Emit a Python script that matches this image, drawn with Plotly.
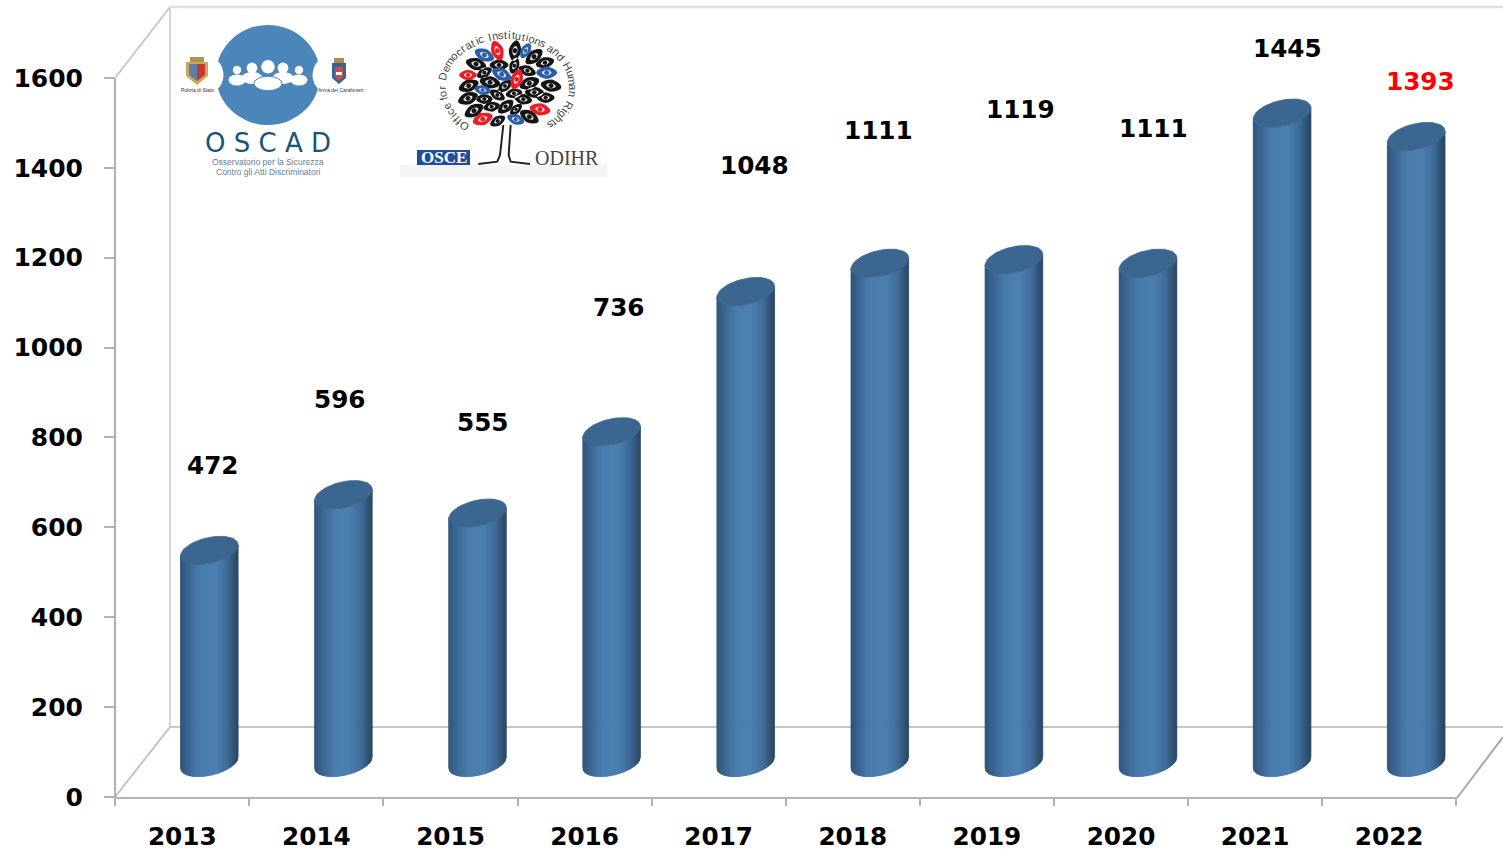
import math
import plotly.graph_objects as go

# ---------- data ----------
years = ["2013", "2014", "2015", "2016", "2017", "2018", "2019", "2020", "2021", "2022"]
values = [472, 596, 555, 736, 1048, 1111, 1119, 1111, 1445, 1393]
label_lift = [85, 95, 91, 124, 126, 133, 150, 135, 65, 55]
label_nudge = [4, -3, 5, 7, 9, -1, 7, 5, 5, 4]
label_colors = ["black"] * 9 + ["#ff0000"]
y_ticks = [0, 200, 400, 600, 800, 1000, 1200, 1400, 1600]

# ---------- geometry of the page ----------
W, H = 1503, 852
L, B = 115, 55
PH = H - B
PW = W - L
UNIT = 0.4494          # px per value unit
STEP = 134.1           # px per category
X0 = 182.3             # px of the first category centre
DEPTH_X = 27.0         # pseudo-3D shift of the bars, px
DEPTH_Y = 34.5
HALF_W = 28.8
TILT = 0.19
ARC = 13.0
SLICES = 58

def px(x): return (x - L) / PW
def py(y): return (H - B - y) / PH
def xu(p): return p / STEP      # px length -> x units
def yu(p): return p / UNIT      # px length -> y units

def gradient(f):
    stops = [(0, (46, 82, 122)), (0.12, (56, 98, 142)), (0.35, (73, 124, 175)),
             (0.62, (74, 125, 176)), (0.82, (62, 106, 152)), (0.95, (46, 78, 110)), (1, (42, 70, 98))]
    for (a, ca), (b, cb) in zip(stops, stops[1:]):
        if f <= b:
            t = (f - a) / (b - a)
            return "rgb(%d,%d,%d)" % tuple(round(ca[k] + (cb[k] - ca[k]) * t) for k in range(3))
    return "rgb(42,70,98)"

def lower(u):
    return TILT * u - ARC * math.sqrt(max(0, 1 - (u / HALF_W) ** 2))

fig = go.Figure()
cx = [i + xu(DEPTH_X) for i in range(len(values))]
base = yu(DEPTH_Y)

for s in range(SLICES):
    u0 = -HALF_W + 2 * HALF_W * s / SLICES
    u1 = -HALF_W + 2 * HALF_W * (s + 1) / SLICES
    xs, ys = [], []
    for c, v in zip(cx, values):
        xs += [c + xu(u0), c + xu(u1), c + xu(u1), c + xu(u0), c + xu(u0), None]
        ys += [base + yu(lower(u0)), base + yu(lower(u1)),
               base + v + yu(lower(u1)), base + v + yu(lower(u0)), base + yu(lower(u0)), None]
    col = gradient((s + 0.5) / SLICES)
    fig.add_trace(go.Scatter(x=xs, y=ys, mode="lines", fill="toself", fillcolor=col,
                             line=dict(color=col, width=0.8), hoverinfo="skip", showlegend=False))

tx, ty = [], []
for c, v in zip(cx, values):
    for k in range(61):
        a = 2 * math.pi * k / 60
        u = HALF_W * math.cos(a)
        tx.append(c + xu(u))
        ty.append(base + v + yu(TILT * u + ARC * math.sin(a)))
    tx.append(None)
    ty.append(None)
fig.add_trace(go.Scatter(x=tx, y=ty, mode="lines", fill="toself", fillcolor="#3b668f",
                         line=dict(color="#3b668f", width=0.8), hoverinfo="skip", showlegend=False))

# ---------- decoration helpers (pixel positions of walls and logos) ----------
shapes = []
ann = []

def seg(x0, y0, x1, y1, color, width, layer="below"):
    shapes.append(dict(type="line", xref="paper", yref="paper", x0=px(x0), y0=py(y0), x1=px(x1), y1=py(y1),
                       line=dict(color=color, width=width), layer=layer))

def circ(cx_, cy_, rx, ry, color, line=None):
    shapes.append(dict(type="circle", xref="paper", yref="paper", x0=px(cx_ - rx), x1=px(cx_ + rx),
                       y0=py(cy_ + ry), y1=py(cy_ - ry), fillcolor=color,
                       line=dict(color=line or color, width=1 if line else 0), layer="above"))

def rect(x0, y0, x1, y1, color, layer="above"):
    shapes.append(dict(type="rect", xref="paper", yref="paper", x0=px(x0), x1=px(x1), y0=py(y1), y1=py(y0),
                       fillcolor=color, line=dict(width=0), layer=layer))

def poly(points, color, outline=None, w=1):
    d = "M" + "L".join("%.5f,%.5f" % (px(x), py(y)) for x, y in points) + "Z"
    shapes.append(dict(type="path", xref="paper", yref="paper", path=d, fillcolor=color,
                       line=dict(color=outline or color, width=w if outline else 0), layer="above"))

def txt(x, y, s, size, color, family="Liberation Sans", weight=None, angle=0, anchor="center"):
    f = dict(size=size, color=color, family=family)
    if weight:
        f["weight"] = weight
    ann.append(dict(xref="paper", yref="paper", x=px(x), y=py(y), text=s, showarrow=False, font=f,
                    textangle=angle, xanchor=anchor, yanchor="middle"))

# walls
seg(115, 78, 170, 7, "#bcc9db", 2)
seg(170, 7, 1503, 7, "#e0e0e0", 2.5)
seg(170, 7, 170, 727, "#d2d6de", 2)
seg(170, 727, 1503, 727, "#c6c6c6", 2)
seg(115, 797, 170, 727, "#b4c4da", 2)
seg(1457, 798, 1503, 737, "#a8a8a8", 2)
seg(115, 78, 115, 798, "#b2b2b2", 2.2)
seg(115, 798, 1457, 798, "#b2b2b2", 2.2)

# OSCAD logo
BLUE = "#4a86ba"
circ(268, 75, 52, 50, BLUE)
circ(203, 75, 20.5, 20.5, "white")
circ(333, 75, 20.5, 20.5, "white")
for hx, hy, hr, bw, bh in [(237, 70, 4.2, 8.5, 5.5), (252, 68, 5.4, 10.5, 6),
                           (283, 68, 5.4, 10.5, 6), (299, 70, 4.2, 8.5, 5.5)]:
    circ(hx, hy, hr, hr, "white")
    circ(hx, hy + 10, bw, bh, "white")
circ(268, 66.7, 6.8, 6.8, "white")
circ(268, 83.5, 14, 7.2, "white", BLUE)
txt(268, 143, "O S C A D", 26, "#1a5478", "DejaVu Sans")
txt(268, 162.5, "Osservatorio per la Sicurezza", 8.5, "#5f7f96", "Liberation Sans")
txt(268, 171.5, "Contro gli Atti Discriminatori", 8.5, "#5f7f96", "Liberation Sans")

# emblems
rect(190, 57, 204, 63, "#b0944f")
poly([(186, 62), (208, 62), (208, 76), (197, 85), (186, 76)], "#c9a95c")
poly([(189, 64), (197, 64), (197, 81), (189, 75)], "#5c80a8")
poly([(197, 64), (205, 64), (205, 75), (197, 81)], "#c23a3a")
txt(197, 89.5, "Polizia di Stato", 5, "#333333")
rect(334, 58, 344, 64, "#a98d4c")
poly([(332, 63), (346, 63), (346, 78), (339, 84), (332, 78)], "#3f6294")
poly([(335, 67), (343, 67), (343, 77), (339, 81), (335, 77)], "#c8504c")
rect(336, 72, 342, 75, "white")
txt(341, 89.5, "Arma dei Carabinieri", 5, "#333333")

# ODIHR logo
rect(400, 165, 607, 177, "#f4f4f4")
rect(417, 150, 470, 165, "#1f4f9c")
txt(443.5, 157.5, "OSCE", 17, "white", "Liberation Serif", weight=700)
txt(567, 158, "ODIHR", 20, "#444444", "Liberation Serif")

leaves = [
    (375, 107, -80, 1, "k"), (322, 107, 70, 1, "r"), (283, 120, 25, 1, "b"), (407, 107, -60, .8, "b"),
    (432, 125, -40, 1, "k"), (465, 143, -15, .9, "k"), (258, 147, 15, 1, "k"), (327, 150, 0, .9, "k"),
    (373, 152, -70, .8, "k"), (412, 167, 20, .85, "k"), (470, 173, 0, 1, "b"), (234, 180, 0, .85, "r"),
    (283, 173, -30, .8, "k"), (335, 178, 25, 1, "b"), (380, 193, -70, 1, "r"), (300, 202, 10, 1, "k"),
    (418, 205, -20, 1, "k"), (483, 212, 10, 1, "k"), (236, 212, -20, 1, "k"), (345, 213, -40, .8, "k"),
    (278, 225, 10, .8, "b"), (433, 232, 0, .9, "k"), (322, 240, 30, .8, "k"), (372, 235, -10, .8, "k"),
    (234, 250, -20, 1, "k"), (283, 252, 0, .8, "k"), (400, 253, 10, .85, "k"), (467, 248, 0, .85, "k"),
    (347, 275, -40, .9, "k"), (305, 275, -10, .8, "k"), (378, 283, -40, .7, "k"), (450, 283, 10, 1, "r"),
    (252, 287, -30, 1, "k"), (418, 305, 30, 1, "k"), (278, 312, -20, 1, "r"), (323, 318, -30, .8, "k"),
    (377, 313, 20, .85, "b"),
]
leaf_col = {"k": "#141414", "r": "#ee1c25", "b": "#2a5ea8"}

def leaf_path(cxz, cyz, ang, sc, a, b):
    c, s = math.cos(math.radians(ang)), math.sin(math.radians(ang))
    lx, ly = 390 + cxz / 3, 15 + cyz / 3
    pts = []
    for k in range(16):
        t = 2 * math.pi * k / 16
        ex = a * sc * math.cos(t)
        ey = b * sc * math.sin(t) * (1 - 0.25 * abs(math.cos(t)))
        pts.append((lx + ex * c - ey * s, ly + ex * s + ey * c))
    return "M" + "L".join("%.5f,%.5f" % (px(x), py(y)) for x, y in pts) + "Z"

for key, col in leaf_col.items():
    d = "".join(leaf_path(x, y, an, sc, 10.5, 6.3) for x, y, an, sc, k in leaves if k == key)
    shapes.append(dict(type="path", xref="paper", yref="paper", path=d, fillcolor=col,
                       line=dict(width=0), layer="above"))
d = "".join(leaf_path(x, y, an, sc, 4.8, 2.8) for x, y, an, sc, k in leaves)
shapes.append(dict(type="path", xref="paper", yref="paper", path=d, fillcolor="#e8e8e8",
                   line=dict(width=0), layer="above"))
for key, col in leaf_col.items():
    d = "".join(leaf_path(x, y, an, sc, 2.6, 2.6) for x, y, an, sc, k in leaves if k == key)
    shapes.append(dict(type="path", xref="paper", yref="paper", path=d, fillcolor=col,
                       line=dict(width=0), layer="above"))

def trunk(points, w=2):
    d = "M" + "L".join("%.5f,%.5f" % (px(390 + x / 3), py(15 + y / 3)) for x, y in points)
    shapes.append(dict(type="path", xref="paper", yref="paper", path=d, line=dict(color="#222222", width=w),
                       layer="above"))

trunk([(340, 330), (330, 420), (322, 440), (265, 447)])
trunk([(362, 330), (356, 420), (362, 440), (420, 447)])

# motto set letter by letter along an ellipse, spaced by approximate glyph width
motto = "Office for Democratic Institutions and Human Rights"
NARROW, WIDE = set("filtj I"), set("mDHRO")
wid = [0.62 if c in NARROW else 1.5 if c in WIDE else 1.0 for c in motto]
RX, RY = 197 / 3, 155 / 3
ts = [math.radians(-143 + 285 * k / 2000) for k in range(2001)]
arc = [0.0]
for a, b in zip(ts, ts[1:]):
    arc.append(arc[-1] + math.hypot(RX * (math.sin(b) - math.sin(a)), RY * (math.cos(b) - math.cos(a))))
pos = 0.0
total = sum(wid)
for ch, w_ in zip(motto, wid):
    target = (pos + w_ / 2) / total * arc[-1]
    pos += w_
    k = min(range(len(arc)), key=lambda j: abs(arc[j] - target))
    t = ts[k]
    lx = 390 + 352 / 3 + RX * math.sin(t)
    ly = 15 + 215 / 3 - RY * math.cos(t)
    ang = math.degrees(math.atan2(RY * math.sin(t), RX * math.cos(t)))
    if ch != " ":
        txt(lx, ly, ch, 11, "#444444", "Liberation Sans", angle=ang)

# value labels
for c, v, lift, nudge, col in zip(cx, values, label_lift, label_nudge, label_colors):
    ann.append(dict(x=c, y=base + v, text=str(v), showarrow=False, yshift=lift, xshift=nudge,
                    font=dict(family="DejaVu Sans", size=24.7, color=col, weight=700),
                    xanchor="center", yanchor="middle"))

fig.update_layout(
    width=W, height=H, margin=dict(l=L, r=0, t=0, b=B, pad=0),
    paper_bgcolor="white", plot_bgcolor="white", showlegend=False,
    shapes=shapes, annotations=ann,
    xaxis=dict(range=[(L - X0) / STEP, (W - X0) / STEP], tickmode="array",
               tickvals=list(range(len(years))), ticktext=years,
               tickfont=dict(family="DejaVu Sans", size=24.7, color="black", weight=700),
               ticks="", showgrid=False, zeroline=False, showline=False, ticklabelstandoff=22,
               minor=dict(tickmode="array", tickvals=[i - 0.5 for i in range(len(years) + 1)],
                          ticks="outside", ticklen=8, tickwidth=2, tickcolor="#b2b2b2", showgrid=False)),
    yaxis=dict(range=[0, PH / UNIT], tickmode="array", tickvals=y_ticks, ticktext=[str(v) for v in y_ticks],
               tickfont=dict(family="DejaVu Sans", size=25, color="black", weight=700),
               ticks="outside", ticklen=10, tickwidth=2, tickcolor="#b2b2b2",
               showgrid=False, zeroline=False, showline=False, ticklabelstandoff=16),
)
fig.write_html("out.html", config=dict(displayModeBar=False), post_script="document.body.style.margin='0';")
